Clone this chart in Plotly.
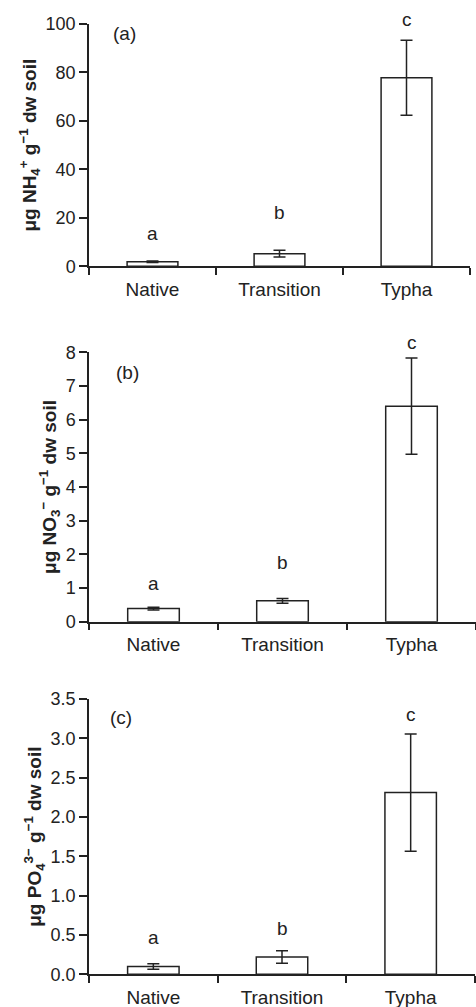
import plotly.graph_objects as go

categories = ["Native", "Transition", "Typha"]

nh4_mean = [1.9, 5.2, 77.8]
nh4_err = [0.3, 1.4, 15.5]
nh4_letters = ["a", "b", "c"]
nh4_letter_y = [13.7, 22.0, 102.0]

no3_mean = [0.39, 0.62, 6.40]
no3_err = [0.04, 0.07, 1.43]
no3_letters = ["a", "b", "c"]
no3_letter_y = [1.14, 1.76, 8.3]

po4_mean = [0.10, 0.22, 2.31]
po4_err = [0.035, 0.08, 0.745]
po4_letters = ["a", "b", "c"]
po4_letter_y = [0.47, 0.58, 3.3]

panel_labels = ["(a)", "(b)", "(c)"]
y_titles = [
    "μg NH<sub>4</sub><sup>+</sup> g<sup>−1</sup> dw soil",
    "μg NO<sub>3</sub><sup>−</sup> g<sup>−1</sup> dw soil",
    "μg PO<sub>4</sub><sup>3−</sup> g<sup>−1</sup> dw soil",
]
y_ranges = [[0, 100], [0, 8], [0, 3.5]]
y_dtick = [20, 1, 0.5]
y_tickformat = ["d", "d", ".1f"]
panel_label_pos = [(-0.22, 96), (-0.205, 7.4), (-0.254, 3.26)]

W, H = 476, 1007
INK = "#222222"
FONT = "Liberation Sans, Arial, sans-serif"

def px_x(a, b):
    return [a / W, min(b / W, 1.0)]

def px_y(top, bottom):
    return [1 - bottom / H, 1 - top / H]

x_domains = [px_x(89, 470), px_x(89, 476), px_x(89, 475)]
y_domains = [px_y(24, 266.3), px_y(352.3, 621.7), px_y(699, 974.3)]

series = [
    (nh4_mean, nh4_err, nh4_letters, nh4_letter_y),
    (no3_mean, no3_err, no3_letters, no3_letter_y),
    (po4_mean, po4_err, po4_letters, po4_letter_y),
]

fig = go.Figure()
annotations = []
layout = {}
for i, (mean, err, letters, ly) in enumerate(series):
    n = "" if i == 0 else str(i + 1)
    xa, ya = "x" + n, "y" + n
    fig.add_trace(go.Bar(
        x=categories, y=mean, xaxis=xa, yaxis=ya, width=0.4,
        marker=dict(color="white", line=dict(color=INK, width=1.5)),
        error_y=dict(type="data", array=err, visible=True, color=INK,
                     thickness=1.5, width=6),
        showlegend=False, hoverinfo="skip",
    ))
    layout["xaxis" + n] = dict(
        domain=x_domains[i], anchor=ya, type="category", automargin=False,
        range=[-0.5, 2.5], showline=True, linecolor=INK, linewidth=1.5,
        ticks="outside", tickson="boundaries", ticklen=7, tickwidth=1.5,
        tickcolor=INK, showgrid=False, zeroline=False, ticklabelstandoff=5,
        tickfont=dict(family=FONT, size=19, color=INK),
    )
    layout["yaxis" + n] = dict(
        domain=y_domains[i], anchor=xa, range=y_ranges[i], dtick=y_dtick[i],
        tick0=0, tickformat=y_tickformat[i], automargin=False,
        showline=True, linecolor=INK, linewidth=1.5, ticks="outside",
        ticklen=8, tickwidth=1.5, tickcolor=INK, showgrid=False,
        zeroline=False, tickfont=dict(family=FONT, size=18, color=INK),
        title=dict(text="<b>" + y_titles[i] + "</b>", standoff=4,
                   font=dict(family=FONT, size=19, color=INK)),
    )
    ymax = y_ranges[i][1]
    for c, t, yv in zip(categories, letters, ly):
        annotations.append(dict(
            x=c, y=yv / ymax, xref=xa, yref=ya + " domain", text=t,
            xanchor="center", yanchor="middle",
            showarrow=False, font=dict(family=FONT, size=19, color=INK),
        ))
    px_, py_ = panel_label_pos[i]
    annotations.append(dict(
        x=px_, y=py_, xref=xa, yref=ya, text=panel_labels[i], showarrow=False,
        xanchor="center", yanchor="middle",
        font=dict(family=FONT, size=19, color=INK),
    ))

fig.update_layout(
    **layout,
    annotations=annotations,
    width=W, height=H,
    margin=dict(l=0, r=0, t=0, b=0, autoexpand=False),
    paper_bgcolor="white", plot_bgcolor="white",
    bargap=0.6,
)
fig.write_html("out.html", config={"displayModeBar": False},
               post_script="document.body.style.margin='0';")
